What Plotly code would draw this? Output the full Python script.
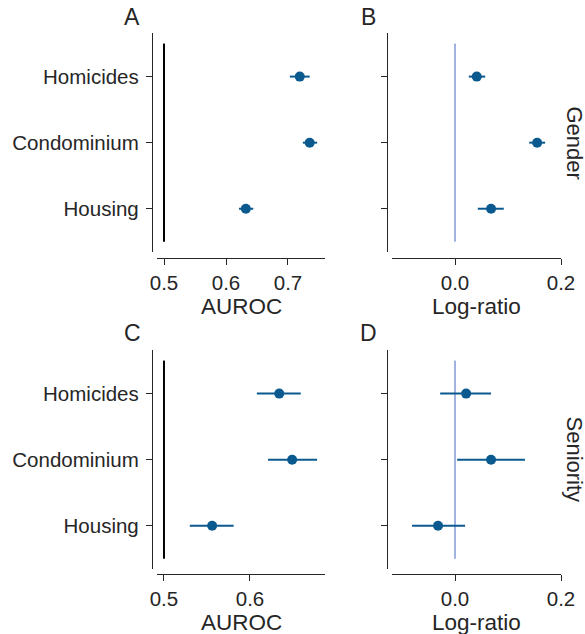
import plotly.graph_objects as go

W, H = 585, 634

categories = ["Homicides", "Condominium", "Housing"]

# Gender row
gender_auroc = [0.719, 0.735, 0.632]
gender_auroc_lo = [0.703, 0.724, 0.621]
gender_auroc_hi = [0.735, 0.747, 0.644]
gender_logratio = [0.041, 0.155, 0.068]
gender_logratio_lo = [0.026, 0.140, 0.043]
gender_logratio_hi = [0.057, 0.170, 0.092]

# Seniority row
seniority_auroc = [0.634, 0.649, 0.556]
seniority_auroc_lo = [0.608, 0.621, 0.530]
seniority_auroc_hi = [0.659, 0.678, 0.581]
seniority_logratio = [0.021, 0.068, -0.032]
seniority_logratio_lo = [-0.028, 0.004, -0.081]
seniority_logratio_hi = [0.068, 0.132, 0.019]

panel_letters = ["A", "B", "C", "D"]
row_titles = ["Gender", "Seniority"]

POINT = "#0b5a8f"
REF_LAV = "#a2b2e0"
INK = "#262626"
FONT = "Liberation Sans, Arial, sans-serif"
TICK_SIZE = 20.5
LABEL_SIZE = 22.5


def px_x(p):
    return p / W


def px_y(p):
    return 1 - p / H


fig = go.Figure()

panels = [
    dict(vals=gender_auroc, lo=gender_auroc_lo, hi=gender_auroc_hi, ref=0.5, refc="black",
         xr=[0.4887, 0.7597], tv=[0.5, 0.6, 0.7], title="AUROC",
         xs=(157, 325), ys=(33, 252), labels=True, xline=258, yline=152),
    dict(vals=gender_logratio, lo=gender_logratio_lo, hi=gender_logratio_hi, ref=0.0, refc=REF_LAV,
         xr=[-0.1189, 0.2], tv=[0.0, 0.2], title="Log-ratio",
         xs=(392, 561), ys=(33, 252), labels=False, xline=258, yline=387),
    dict(vals=seniority_auroc, lo=seniority_auroc_lo, hi=seniority_auroc_hi, ref=0.5, refc="black",
         xr=[0.4919, 0.6872], tv=[0.5, 0.6], title="AUROC",
         xs=(157, 325), ys=(350, 569), labels=True, xline=574, yline=152),
    dict(vals=seniority_logratio, lo=seniority_logratio_lo, hi=seniority_logratio_hi, ref=0.0, refc=REF_LAV,
         xr=[-0.1189, 0.2], tv=[0.0, 0.2], title="Log-ratio",
         xs=(392, 561), ys=(350, 569), labels=False, xline=574, yline=387),
]

layout = {}
annotations = []
for i, p in enumerate(panels, start=1):
    xa = "x" if i == 1 else f"x{i}"
    ya = "y" if i == 1 else f"y{i}"
    xkey = "xaxis" if i == 1 else f"xaxis{i}"
    ykey = "yaxis" if i == 1 else f"yaxis{i}"

    # reference line spanning the three categories
    fig.add_trace(go.Scatter(
        x=[p["ref"], p["ref"]], y=[-0.5, 2.5], mode="lines",
        line=dict(color=p["refc"], width=2), xaxis=xa, yaxis=ya,
        showlegend=False, hoverinfo="skip"))

    plus = [h - v for h, v in zip(p["hi"], p["vals"])]
    minus = [v - l for v, l in zip(p["vals"], p["lo"])]
    fig.add_trace(go.Scatter(
        x=p["vals"], y=list(range(len(categories))), mode="markers",
        marker=dict(color=POINT, size=10),
        error_x=dict(type="data", symmetric=False, array=plus, arrayminus=minus,
                     color=POINT, thickness=2, width=0),
        xaxis=xa, yaxis=ya, showlegend=False))

    layout[xkey] = dict(
        domain=[px_x(p["xs"][0]), px_x(p["xs"][1])], range=p["xr"],
        anchor="free", position=px_y(p["xline"]), automargin=False,
        tickvals=p["tv"], tickformat=".1f",
        ticks="outside", ticklen=6, tickwidth=1.25, tickcolor=INK,
        showline=True, linecolor=INK, linewidth=1.25, showgrid=False, zeroline=False,
        tickfont=dict(size=TICK_SIZE, color=INK, family=FONT),
    )
    layout[ykey] = dict(
        domain=[px_y(p["ys"][1]), px_y(p["ys"][0])], range=[2.655, -0.66],
        anchor="free", position=px_x(p["yline"]), automargin=False,
        tickvals=list(range(len(categories))),
        ticktext=categories if p["labels"] else [""] * len(categories),
        ticks="outside", ticklen=6, tickwidth=1.25, tickcolor=INK,
        ticklabelstandoff=3,
        showline=True, linecolor=INK, linewidth=1.25, showgrid=False, zeroline=False,
        tickfont=dict(size=TICK_SIZE, color=INK, family=FONT),
    )

    # x-axis title centred under the axis line
    annotations.append(dict(
        text=p["title"], x=(px_x(p["xs"][0]) + px_x(p["xs"][1])) / 2,
        y=px_y(p["xline"] + 48), xref="paper", yref="paper",
        showarrow=False, xanchor="center", yanchor="middle",
        font=dict(size=LABEL_SIZE, color=INK, family=FONT)))

letter_pos = [(132, 17), (368, 17), (132, 333), (368, 333)]
for letter, (lx, ly) in zip(panel_letters, letter_pos):
    annotations.append(dict(text=letter, x=px_x(lx), y=px_y(ly), xref="paper", yref="paper",
                            showarrow=False, xanchor="center", yanchor="middle",
                            font=dict(size=23, color=INK, family=FONT)))
for title, cy in zip(row_titles, [142.5, 459.5]):
    annotations.append(dict(text=title, x=px_x(574), y=px_y(cy), xref="paper", yref="paper",
                            showarrow=False, xanchor="center", yanchor="middle", textangle=90,
                            font=dict(size=22, color=INK, family=FONT)))

fig.update_layout(
    template="none",
    width=W, height=H, margin=dict(l=0, r=0, t=0, b=0, autoexpand=False),
    paper_bgcolor="white", plot_bgcolor="white",
    font=dict(family=FONT, color=INK),
    annotations=annotations,
    **layout,
)

fig.write_html("out.html")
